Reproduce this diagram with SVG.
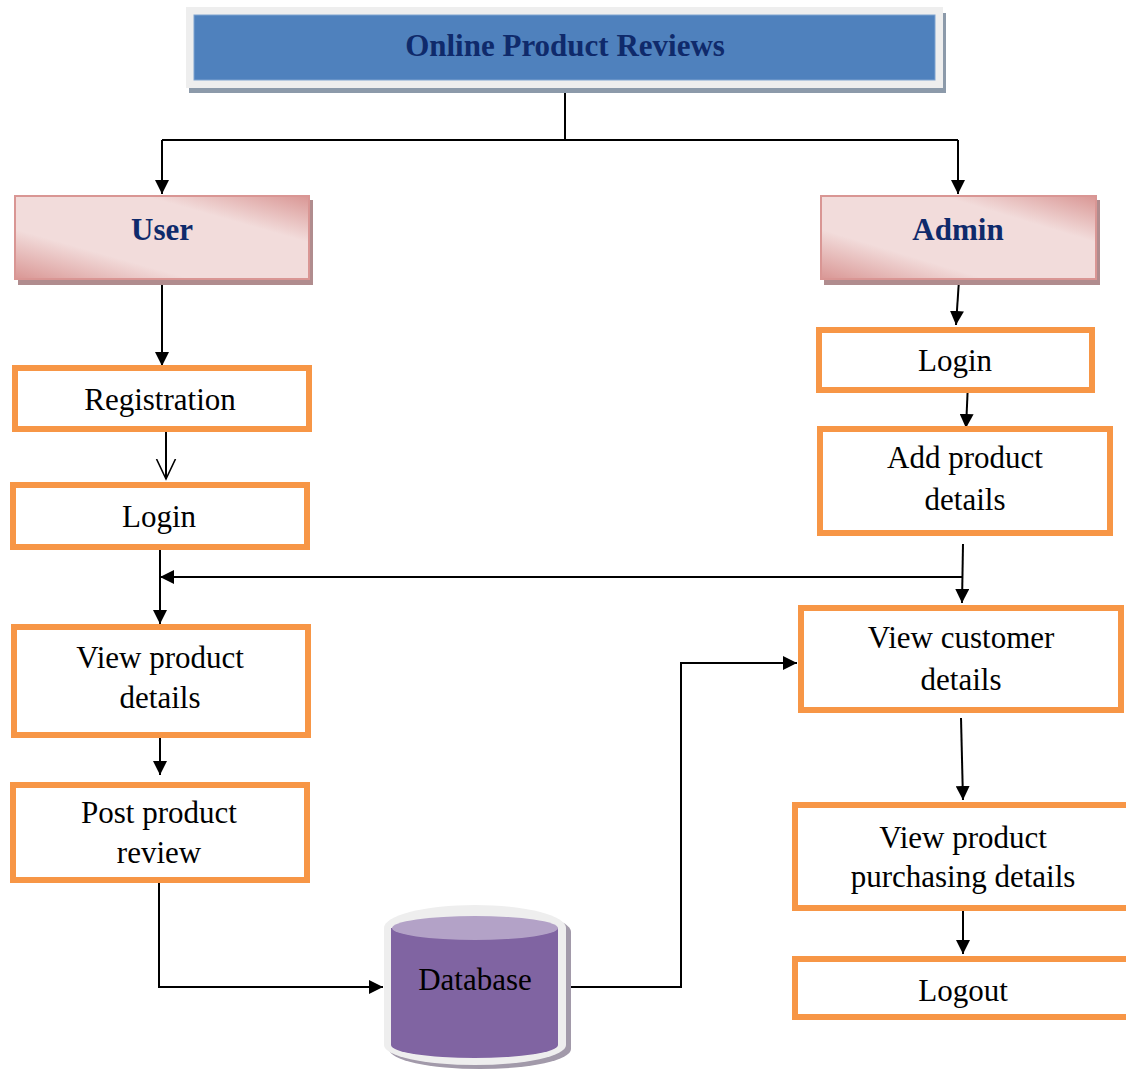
<svg xmlns="http://www.w3.org/2000/svg" width="1126" height="1072" viewBox="0 0 1126 1072">
<style>
  .box{fill:#FFFFFF;stroke:#F79646;stroke-width:6}
  .t{font-family:"Liberation Serif","Times New Roman",serif;font-size:31px;fill:#000;text-anchor:middle}
  .hb{font-family:"Liberation Serif","Times New Roman",serif;font-weight:bold;font-size:31px;fill:#0F2A6B;text-anchor:middle}
  .ln{fill:none;stroke:#000;stroke-width:2}
  .pink{fill:url(#pk);stroke:#D99694;stroke-width:2}
  .pshadow{fill:#B08C8E}
</style>
<defs>
  <linearGradient id="pk" x1="0" y1="1" x2="1" y2="0">
    <stop offset="0" stop-color="#D99694"/>
    <stop offset="0.3" stop-color="#F2DCDB"/>
    <stop offset="0.72" stop-color="#F2DCDB"/>
    <stop offset="1" stop-color="#D99694"/>
  </linearGradient>
  <marker id="ah" markerUnits="userSpaceOnUse" markerWidth="14" markerHeight="14" refX="14" refY="7" orient="auto" viewBox="0 0 14 14">
    <path d="M0,0 L14,7 L0,14 z" fill="#000"/>
  </marker>
  <marker id="oa" markerUnits="userSpaceOnUse" markerWidth="22" markerHeight="22" refX="20" refY="11" orient="auto" viewBox="0 0 22 22">
    <path d="M0,1.5 L20,11 L0,20.5" fill="none" stroke="#000" stroke-width="1.6"/>
  </marker>
</defs>
<rect width="1126" height="1072" fill="#FFFFFF"/>

<g id="connectors">
  <path class="ln" d="M565,93 V140"/>
  <path class="ln" d="M162,140 H958"/>
  <path class="ln" d="M162,140 V194" marker-end="url(#ah)"/>
  <path class="ln" d="M958,140 V194" marker-end="url(#ah)"/>
  <path class="ln" d="M162,280 V366" marker-end="url(#ah)"/>
  <path class="ln" d="M166,432 V479" stroke-width="1.6" marker-end="url(#oa)"/>
  <path class="ln" d="M160,550 V624" marker-end="url(#ah)"/>
  <path class="ln" d="M962,577 H160" marker-end="url(#ah)"/>
  <path class="ln" d="M160,738 V775" marker-end="url(#ah)"/>
  <path class="ln" d="M159,883 V987 H383" marker-end="url(#ah)"/>
  <path class="ln" d="M568,987 H681 V663 H797" marker-end="url(#ah)"/>
  <path class="ln" d="M959,280 L956,325" marker-end="url(#ah)"/>
  <path class="ln" d="M968,383 L966,428" marker-end="url(#ah)"/>
  <path class="ln" d="M963,544 L962,603" marker-end="url(#ah)"/>
  <path class="ln" d="M961,718 L963,800" marker-end="url(#ah)"/>
  <path class="ln" d="M963,911 V954" marker-end="url(#ah)"/>
</g>

<g id="title">
  <rect x="189" y="13" width="757" height="80" fill="#8C9AAA"/>
  <rect x="186" y="7" width="757" height="81" fill="#EEEEEE"/>
  <rect x="194" y="15" width="741" height="65" fill="#4F81BD" stroke="#7FA3D0" stroke-width="1"/>
  <text x="565" y="56" class="hb" font-size="32">Online Product Reviews</text>
</g>

<g id="user">
  <rect x="18" y="200" width="295" height="85" class="pshadow"/>
  <rect x="15" y="196" width="294" height="83" class="pink"/>
  <text x="162" y="240" class="hb">User</text>
</g>

<g id="admin">
  <rect x="824" y="200" width="276" height="85" class="pshadow"/>
  <rect x="821" y="196" width="275" height="83" class="pink"/>
  <text x="958" y="240" class="hb">Admin</text>
</g>

<g id="registration">
  <rect x="15" y="368" width="294" height="61" class="box"/>
  <text x="160" y="410" class="t">Registration</text>
</g>

<g id="user-login">
  <rect x="13" y="485" width="294" height="62" class="box"/>
  <text x="159" y="527" class="t">Login</text>
</g>

<g id="view-product-details">
  <rect x="14" y="627" width="294" height="108" class="box"/>
  <text x="160" y="668" class="t">View product</text>
  <text x="160" y="708" class="t">details</text>
</g>

<g id="post-product-review">
  <rect x="13" y="785" width="294" height="95" class="box"/>
  <text x="159" y="823" class="t">Post product</text>
  <text x="159" y="863" class="t">review</text>
</g>

<g id="database">
  <path d="M389,932 A91,23 0 0 1 571,932 V1049 A91,20 0 0 1 389,1049 Z" fill="#A29AAA"/>
  <path d="M384,928 A91,23 0 0 1 566,928 V1045 A91,20 0 0 1 384,1045 Z" fill="#EEEEEE"/>
  <path d="M391,928 V1045 A83.5,13 0 0 0 558,1045 V928 Z" fill="#8064A2"/>
  <ellipse cx="475" cy="928" rx="83" ry="12" fill="#B3A2C7"/>
  <text x="475" y="990" class="t">Database</text>
</g>

<g id="admin-login">
  <rect x="819" y="330" width="273" height="60" class="box"/>
  <text x="955" y="371" class="t">Login</text>
</g>

<g id="add-product-details">
  <rect x="820" y="429" width="290" height="104" class="box"/>
  <text x="965" y="468" class="t">Add product</text>
  <text x="965" y="510" class="t">details</text>
</g>

<g id="view-customer-details">
  <rect x="801" y="608" width="320" height="102" class="box"/>
  <text x="961" y="648" class="t">View customer</text>
  <text x="961" y="690" class="t">details</text>
</g>

<g id="view-product-purchasing-details">
  <rect x="795" y="805" width="340" height="103" class="box"/>
  <text x="963" y="848" class="t">View product</text>
  <text x="963" y="887" class="t">purchasing details</text>
</g>

<g id="logout">
  <rect x="795" y="959" width="340" height="58" class="box"/>
  <text x="963" y="1001" class="t">Logout</text>
</g>
</svg>
